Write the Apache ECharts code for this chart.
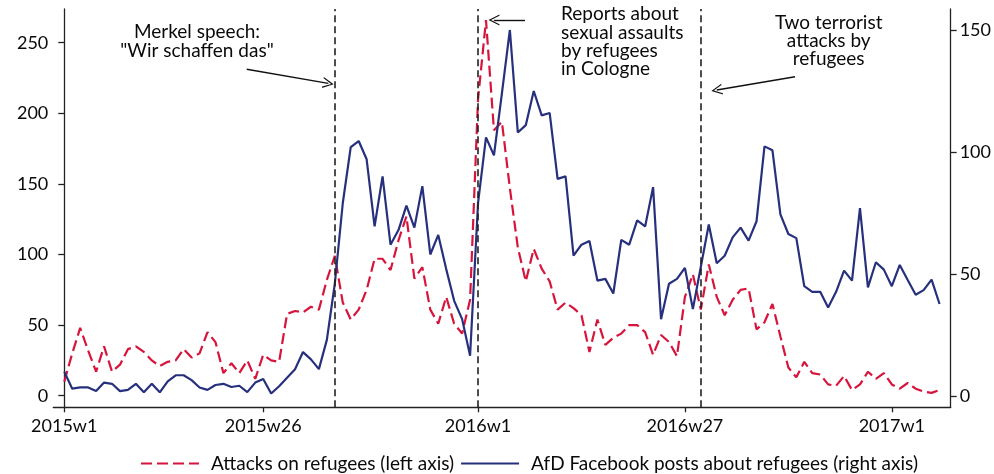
<!DOCTYPE html>
<html>
<head>
<meta charset="utf-8">
<script src="https://cdn.jsdelivr.net/npm/echarts@6/dist/echarts.min.js"></script>
<style>
  html, body { margin: 0; padding: 0; background: #fff; }
  #chart { width: 994px; height: 474px; }
</style>
</head>
<body>
<div id="chart"></div>
<script>
// Week tick labels and their positions (week index, 0 = 2015w1)
const tickLabels = ['2015w1', '2015w26', '2016w1', '2016w27', '2017w1'];
const tickWeeks = [0, 25, 52, 78, 104];

// Event weeks (dashed lines)
const eventWeeks = [34, 52, 80];

// Attacks on refugees (left axis), weekly from 2015w1
const attacks = [
  10, 30, 48, 32, 17, 35, 17, 22, 33, 35,
  31, 25, 21, 24, 25, 33, 27, 30, 45, 38,
  16, 23, 16, 25, 12, 29, 25, 24, 58, 60,
  59, 63, 61, 82, 99, 66, 54, 61, 75, 97,
  97, 89, 110, 127, 83, 91, 61, 51, 70, 51,
  44, 68, 210, 266, 188, 194, 147, 105, 81, 104,
  90, 81, 61, 66, 62, 57, 31, 54, 36, 41,
  44, 50, 50, 45, 29, 43, 38, 28, 70, 86,
  61, 93, 70, 57, 68, 75, 76, 47, 52, 65,
  42, 20, 13, 24, 16, 15, 8, 7, 14, 4,
  8, 17, 12, 16, 8, 5, 9, 5, 3, 2, 4
];

// AfD Facebook posts about refugees (right axis), weekly from 2015w1
const posts = [
  10, 3, 3.5, 3.5, 2, 5.5, 5, 2, 2.5, 5,
  1.5, 5, 1.5, 6, 8.5, 8.5, 6.5, 3.5, 2.5, 4.5,
  5, 3.7, 4.2, 1.6, 5.5, 7, 1, 4, 7.5, 11,
  18, 15, 11, 23, 46, 79, 102, 104.5, 97, 69.5,
  90, 62, 68, 78, 69, 86, 58, 66, 52, 39,
  31.5, 16.5, 79, 106, 98.6, 124, 150, 108, 111, 125,
  115, 116, 89, 90, 57.5, 62, 63.5, 47.3, 48, 42,
  64, 62, 72, 69.5, 85.6, 31.5, 46, 48, 52.5, 35.6,
  53, 70.3, 54.4, 57.5, 65, 69, 63.7, 71.6, 102.3, 100.7,
  74.4, 66.4, 64.7, 45, 42.7, 42.7, 36.3, 42.7, 51.4, 47.3,
  77, 44.5, 54.8, 51.8, 45, 53.7, 47.5, 41.5, 43.4, 47.7, 37.7
];

const FONT = 'Lato';
const TXT = '#0a0a0a';
const chevron = 'path://M0,12 L6,0 L12,12 L10.6,12 L6,2.8 L1.4,12 Z';

const chart = echarts.init(document.getElementById('chart'), null, { renderer: 'canvas' });

const arrowStyle = { color: '#111', width: 1.4, type: 'solid' };

chart.setOption({
  animation: false,
  backgroundColor: '#fff',
  textStyle: { fontFamily: FONT },
  grid: { left: 53.3, right: 43.3, top: 9, bottom: 66.7, containLabel: false },
  legend: {
    left: 135, top: 449,
    itemWidth: 58, itemHeight: 14, itemGap: 6,
    itemStyle: { opacity: 0 },
    textStyle: { fontFamily: FONT, fontSize: 19, color: TXT, padding: [0, 0, 0, 7] },
    data: ['Attacks on refugees (left axis)', 'AfD Facebook posts about refugees (right axis)']
  },
  xAxis: {
    type: 'value', min: -1.38, max: 111.4,
    axisLine: { show: true, onZero: false, lineStyle: { color: '#222', width: 1.3 } },
    axisTick: { show: true, length: 5, customValues: tickWeeks, lineStyle: { color: '#222', width: 1.3 } },
    axisLabel: {
      customValues: tickWeeks, margin: 10, fontFamily: FONT, fontSize: 18, color: TXT,
      formatter: v => tickLabels[tickWeeks.indexOf(v)] || ''
    },
    splitLine: { show: false }
  },
  yAxis: [
    {
      type: 'value', position: 'left', min: -8.2, max: 273.9,
      axisLine: { show: true, lineStyle: { color: '#222', width: 1.3 } },
      axisTick: { show: true, length: 6, customValues: [0, 50, 100, 150, 200, 250], lineStyle: { color: '#222', width: 1.3 } },
      axisLabel: { customValues: [0, 50, 100, 150, 200, 250], margin: 5, fontFamily: FONT, fontSize: 18, color: TXT },
      splitLine: { show: false }
    },
    {
      type: 'value', position: 'right', min: -4.63, max: 158.6,
      axisLine: { show: true, lineStyle: { color: '#222', width: 1.3 } },
      axisTick: { show: true, length: 6, customValues: [0, 50, 100, 150], lineStyle: { color: '#222', width: 1.3 } },
      axisLabel: { customValues: [0, 50, 100, 150], margin: 9, fontFamily: FONT, fontSize: 18, color: TXT },
      splitLine: { show: false }
    }
  ],
  series: [
    {
      name: 'Attacks on refugees (left axis)',
      type: 'line', yAxisIndex: 0, symbol: 'none',
      data: attacks.map((v, i) => [i, v]),
      itemStyle: { color: '#d6143c' },
      lineStyle: { color: '#d6143c', width: 2.2, type: [11, 5] },
      markLine: {
        silent: true, symbol: 'none', label: { show: false },
        lineStyle: { color: '#222', width: 1.6, type: [7, 4] },
        data: eventWeeks.map(w => ({ xAxis: w }))
      },
      z: 2
    },
    {
      name: 'AfD Facebook posts about refugees (right axis)',
      type: 'line', yAxisIndex: 1, symbol: 'none',
      data: posts.map((v, i) => [i, v]),
      itemStyle: { color: '#27307c' },
      lineStyle: { color: '#27307c', width: 2.2 },
      z: 3
    },
    {
      // annotation arrows (data coordinates on the left axis)
      type: 'line', yAxisIndex: 0, data: [], silent: true,
      markLine: {
        silent: true, animation: false,
        symbol: ['none', chevron], symbolSize: [11, 11],
        label: { show: false },
        lineStyle: arrowStyle,
        data: [
          [{ coord: [22.93, 231.2] }, { coord: [33.18, 221.2] }],
          [{ coord: [57.9, 266.1] }, { coord: [54.0, 266.1] }],
          [{ coord: [91.84, 225.9] }, { coord: [82.0, 216.5] }]
        ]
      }
    }
  ],
  graphic: [
    {
      type: 'text', x: 197, y: 23,
      style: {
        text: 'Merkel speech:\n"Wir schaffen das"',
        align: 'center', fill: TXT, font: '19px Lato', lineHeight: 18.5
      }
    },
    {
      type: 'text', x: 561, y: 5,
      style: {
        text: 'Reports about\nsexual assaults\nby refugees\nin Cologne',
        align: 'left', fill: TXT, font: '19px Lato', lineHeight: 18.3
      }
    },
    {
      type: 'text', x: 828.7, y: 14,
      style: {
        text: 'Two terrorist\nattacks by\nrefugees',
        align: 'center', fill: TXT, font: '19px Lato', lineHeight: 17.9
      }
    }
  ]
});
</script>
</body>
</html>
